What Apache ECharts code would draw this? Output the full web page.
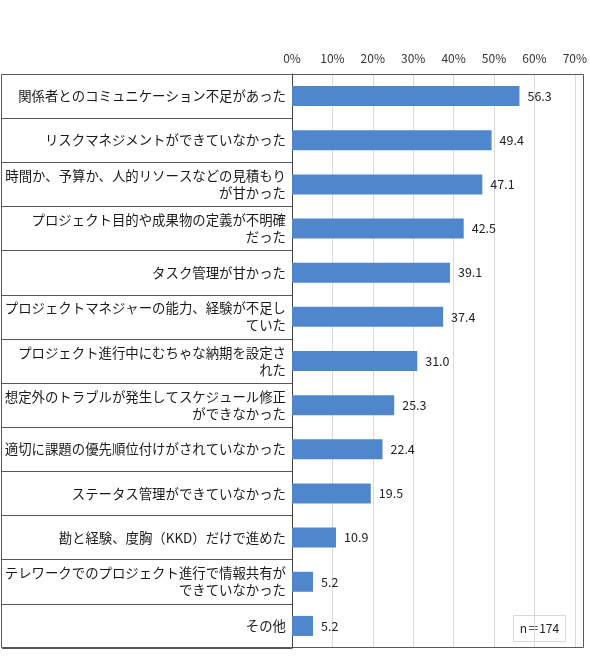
<!DOCTYPE html>
<html><head><meta charset="utf-8">
<script src="https://cdn.jsdelivr.net/npm/echarts@6/dist/echarts.min.js"></script>
<style>html,body{margin:0;padding:0;background:#fff}#c{width:590px;height:668px}</style>
</head><body><div id="c"></div>
<script>
const categories = [
  '関係者とのコミュニケーション不足があった',
  'リスクマネジメントができていなかった',
  '時間か、予算か、人的リソースなどの見積もり\nが甘かった',
  'プロジェクト目的や成果物の定義が不明確\nだった',
  'タスク管理が甘かった',
  'プロジェクトマネジャーの能力、経験が不足し\nていた',
  'プロジェクト進行中にむちゃな納期を設定さ\nれた',
  '想定外のトラブルが発生してスケジュール修正\nができなかった',
  '適切に課題の優先順位付けがされていなかった',
  'ステータス管理ができていなかった',
  '勘と経験、度胸（KKD）だけで進めた',
  'テレワークでのプロジェクト進行で情報共有が\nできていなかった',
  'その他'
];
const values = [56.3, 49.4, 47.1, 42.5, 39.1, 37.4, 31.0, 25.3, 22.4, 19.5, 10.9, 5.2, 5.2];
const xTicks = { min: 0, max: 70, interval: 10 };
const note = 'n＝174';

const font = '"Noto Sans CJK JP", "Noto Sans", sans-serif';
const chart = echarts.init(document.getElementById('c'));
chart.setOption({
  animation: false,
  textStyle: { fontFamily: font },
  grid: { left: 292, right: 11, top: 74, bottom: 20, containLabel: false },
  xAxis: {
    type: 'value', position: 'top', min: xTicks.min, max: xTicks.max, interval: xTicks.interval,
    axisLine: { show: false }, axisTick: { show: false },
    axisLabel: { formatter: '{value}%', fontSize: 12, color: '#333', margin: 10, fontFamily: font },
    splitLine: { show: true, lineStyle: { color: '#d9d9d9', width: 1 } }
  },
  yAxis: {
    type: 'category', inverse: true, data: categories,
    axisLine: { show: true, lineStyle: { color: '#404040', width: 1 } },
    axisTick: { show: true, length: 290, lineStyle: { color: '#595959', width: 1 } },
    axisLabel: { fontSize: 13.4, color: '#1a1a1a', margin: 6, align: 'right', lineHeight: 17, fontFamily: font },
    splitLine: { show: false }
  },
  series: [{
    type: 'bar', data: values, barWidth: 20,
    itemStyle: { color: '#5087cc' },
    label: { show: true, position: 'right', distance: 8, fontSize: 12.5, color: '#222',
      fontFamily: font, formatter: p => p.value.toFixed(1) }
  }],
  graphic: [
    { type: 'rect', shape: { x: 1.5, y: 74.5, width: 582, height: 573 },
      style: { fill: 'none', stroke: '#595959', lineWidth: 1 }, silent: true, z: 10 },
    { type: 'group', right: 24, bottom: 26, children: [
      { type: 'rect', shape: { width: 52, height: 26 }, style: { fill: '#fff', stroke: '#d9d9d9', lineWidth: 1 } },
      { type: 'text', x: 26, y: 13, style: { text: note, fontSize: 12, fill: '#222', align: 'center', verticalAlign: 'middle', fontFamily: font } }
    ]}
  ]
});
</script></body></html>
